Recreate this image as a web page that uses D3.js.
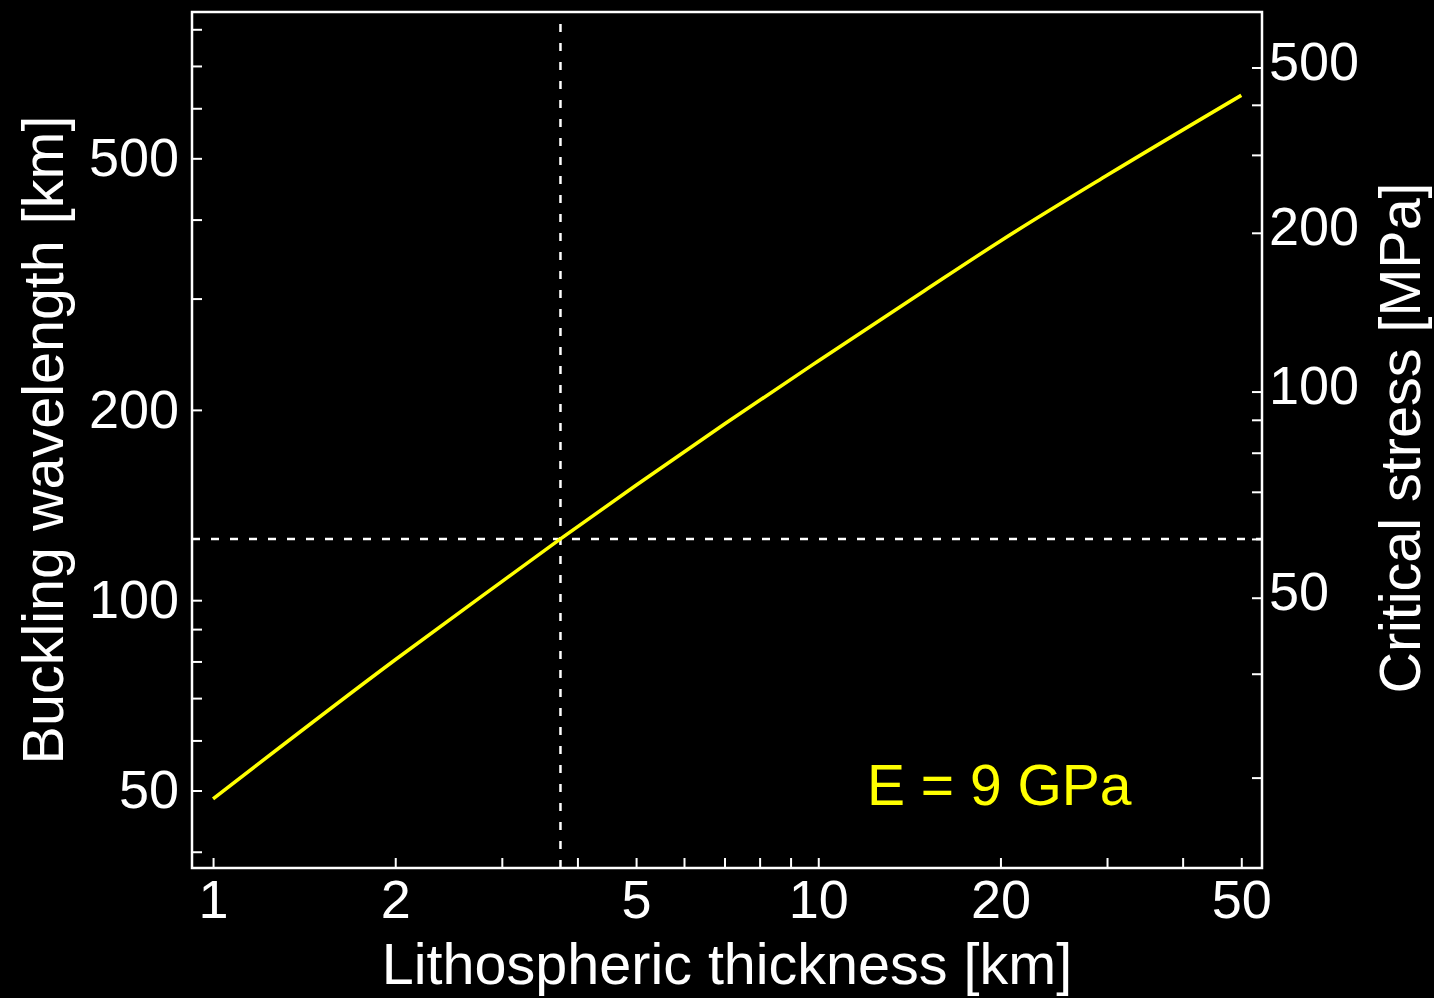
<!DOCTYPE html>
<html>
<head>
<meta charset="utf-8">
<script src="https://cdn.jsdelivr.net/npm/d3@7"></script>
<style>
  body { margin: 0; background: #000; }
  text { font-family: "Liberation Sans", Arial, Helvetica, sans-serif; }
</style>
</head>
<body>
<script>
// curve: lithospheric thickness [km] -> buckling wavelength [km]
const thickness = [1, 2, 3, 3.75, 5, 7, 10, 15, 20, 30, 50]
const wavelength = [48.5, 80.5, 107, 125, 152, 190, 239, 309, 370, 470, 629]

// dashed reference point
const markerThickness = 3.75
const markerWavelength = 125

// bottom axis
const xTicks = [1, 2, 3, 4, 5, 6, 7, 8, 9, 10, 20, 30, 40, 50]
const xLabels = [1, 2, 5, 10, 20, 50]
const xDomain = [0.923, 54.1]

// left axis
const yTicks = [40, 50, 60, 70, 80, 90, 100, 200, 300, 400, 500, 600, 700, 800]
const yLabels = [50, 100, 200, 500]
const yDomain = [37.7, 852]

// right axis: critical stress [MPa] and the wavelength each tick sits at
const stressTicks = [30, 40, 50, 60, 70, 80, 90, 100, 200, 300, 400, 500]
const stressAtWavelength = [52.4, 76.5, 100.9, 125, 148.4, 171.1, 192.9, 213.8, 381.2, 506.3, 607.6, 696]
const stressLabels = [50, 100, 200, 500]

const width = 1434, height = 998
const plotLeft = 192, plotRight = 1262, plotTop = 12, plotBottom = 868
const tickLen = 10
const fontTick = 54, fontTitle = 57.5

let svg = d3.select('body').append('svg')
  .attr('width', width)
  .attr('height', height)
  .style('display', 'block')
  .style('background', '#000')

let x = d3.scaleLog().domain(xDomain).range([plotLeft, plotRight])
let y = d3.scaleLog().domain(yDomain).range([plotBottom, plotTop])
let yStress = d3.scaleLog()
  .domain(stressTicks)
  .range(stressAtWavelength.map(w => y(w)))

function styleAxis(g) {
  g.select('.domain').remove()
  g.selectAll('.tick line').attr('stroke', '#fff').attr('stroke-width', 2)
  g.selectAll('.tick text').attr('fill', '#fff')
  g.attr('font-size', fontTick).attr('font-family', null)
}

// bottom
svg.append('g')
  .attr('transform', `translate(0, ${plotBottom})`)
  .call(d3.axisBottom(x)
    .tickValues(xTicks)
    .tickSizeInner(-tickLen).tickSizeOuter(0)
    .tickPadding(12)
    .tickFormat(d => xLabels.includes(d) ? d : ''))
  .call(styleAxis)

// left
svg.append('g')
  .attr('transform', `translate(${plotLeft}, 0)`)
  .call(d3.axisLeft(y)
    .tickValues(yTicks)
    .tickSizeInner(-tickLen).tickSizeOuter(0)
    .tickPadding(13)
    .tickFormat(d => yLabels.includes(d) ? d : ''))
  .call(styleAxis)

// right
svg.append('g')
  .attr('transform', `translate(${plotRight}, 0)`)
  .call(d3.axisRight(yStress)
    .tickValues(stressTicks)
    .tickSizeInner(-tickLen).tickSizeOuter(0)
    .tickPadding(7)
    .tickFormat(d => stressLabels.includes(d) ? d : ''))
  .call(styleAxis)
  .selectAll('.tick text').attr('dy', '0.22em')

// dashed guides
svg.append('line')
  .attr('x1', x(markerThickness)).attr('x2', x(markerThickness))
  .attr('y1', plotBottom).attr('y2', plotTop)
  .attr('stroke', '#fff').attr('stroke-width', 2.5)
  .attr('stroke-dasharray', '8,11')
svg.append('line')
  .attr('x1', plotLeft).attr('x2', plotRight)
  .attr('y1', y(markerWavelength)).attr('y2', y(markerWavelength))
  .attr('stroke', '#fff').attr('stroke-width', 2.5)
  .attr('stroke-dasharray', '8,11')

// curve
let line = d3.line()
  .x(d => x(d[0]))
  .y(d => y(d[1]))
  .curve(d3.curveMonotoneX)
svg.append('path')
  .datum(d3.zip(thickness, wavelength))
  .attr('d', line)
  .attr('fill', 'none')
  .attr('stroke', '#ffff00')
  .attr('stroke-width', 3.5)

// frame
svg.append('rect')
  .attr('x', plotLeft).attr('y', plotTop)
  .attr('width', plotRight - plotLeft).attr('height', plotBottom - plotTop)
  .attr('fill', 'none')
  .attr('stroke', '#fff')
  .attr('stroke-width', 2.5)

// titles
svg.append('text')
  .attr('x', 727).attr('y', 984)
  .attr('text-anchor', 'middle')
  .attr('font-size', fontTitle)
  .attr('fill', '#fff')
  .text('Lithospheric thickness [km]')

svg.append('text')
  .attr('transform', 'translate(63, 440) rotate(-90)')
  .attr('text-anchor', 'middle')
  .attr('font-size', fontTitle)
  .attr('fill', '#fff')
  .text('Buckling wavelength [km]')

svg.append('text')
  .attr('transform', 'translate(1420, 438) rotate(-90)')
  .attr('text-anchor', 'middle')
  .attr('font-size', fontTitle)
  .attr('fill', '#fff')
  .text('Critical stress [MPa]')

svg.append('text')
  .attr('x', 867).attr('y', 805)
  .attr('font-size', 57)
  .attr('fill', '#ffff00')
  .text('E = 9 GPa')
</script>
</body>
</html>
